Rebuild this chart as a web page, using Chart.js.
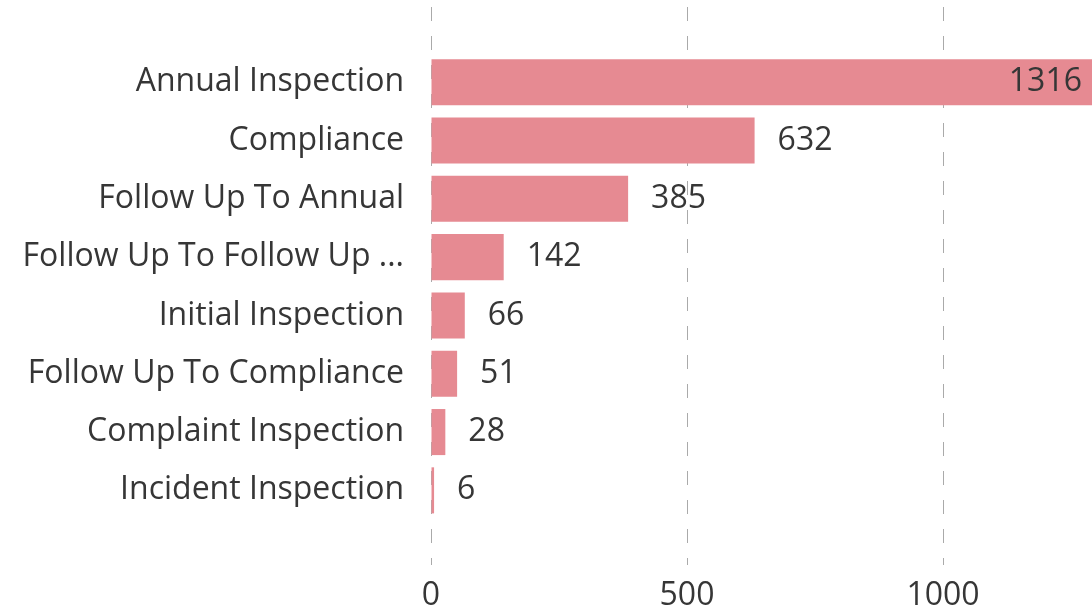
<!DOCTYPE html>
<html>
<head>
<meta charset="utf-8">
<script src="https://cdn.jsdelivr.net/npm/chart.js@4"></script>
<style>
  html, body { margin: 0; padding: 0; background: #fff; overflow: hidden; }
  #wrap { width: 1092px; height: 609px; }
</style>
</head>
<body>
<div id="wrap"><canvas id="inspections"></canvas></div>
<script>
var categories = [
	'Annual Inspection',
	'Compliance',
	'Follow Up To Annual',
	'Follow Up To Follow Up ...',
	'Initial Inspection',
	'Follow Up To Compliance',
	'Complaint Inspection',
	'Incident Inspection'
];
var counts = [1316, 632, 385, 142, 66, 51, 28, 6];
var xTicks = [0, 500, 1000];

var FONT = '"Open Sans", "Noto Sans", sans-serif';
var TEXT = '#363636';

// draw the value next to each bar (inside when it runs off the plot)
var valueLabels = {
	id : 'valueLabels',
	afterDatasetsDraw : function(chart) {
		var ctx = chart.ctx;
		var area = chart.chartArea;
		var meta = chart.getDatasetMeta(0);
		ctx.save();
		ctx.font = '32px ' + FONT;
		ctx.fillStyle = TEXT;
		ctx.textBaseline = 'middle';
		meta.data.forEach(function(bar, i) {
			var txt = String(counts[i]);
			if (bar.x > area.right - 80) {
				ctx.textAlign = 'right';
				ctx.fillText(txt, area.right - 10, bar.y);
			} else {
				ctx.textAlign = 'left';
				ctx.fillText(txt, bar.x + 23, bar.y);
			}
		});
		ctx.restore();
	}
};

function noEdgePadding(scale) {
	scale.paddingTop = 0;
	scale.paddingBottom = 0;
	scale.paddingLeft = 0;
	scale.paddingRight = 0;
}

var config = {
	type    : 'bar',
	data    : {
		datasets : [
			{
				data               : counts.map(function(v, i) { return { x : v, y : i }; }),
				backgroundColor    : 'rgb(230,138,146)',
				borderWidth        : 0,
				barPercentage      : 0.79,
				categoryPercentage : 1
			}
		]
	},
	options : {
		indexAxis           : 'y',
		responsive          : true,
		maintainAspectRatio : false,
		animation           : false,
		layout              : { padding : { top : 7, right : 0, left : 0, bottom : 0 } },
		plugins             : {
			legend  : { display : false },
			tooltip : { enabled : false }
		},
		scales : {
			x : {
				type   : 'linear',
				min    : 0,
				max    : 1291,
				grid   : {
					color      : '#aaaaaa',
					lineWidth  : 1,
					drawTicks  : false
				},
				border : { display : false, dash : [14, 15] },
				ticks  : {
					padding  : 12,
					color    : TEXT,
					font     : { family : FONT, size : 32 },
					callback : function(v) { return String(v); }
				},
				afterBuildTicks : function(scale) {
					scale.ticks = xTicks.map(function(v) { return { value : v }; });
				},
				afterFit : function(scale) {
					scale.height = 44;
					noEdgePadding(scale);
				}
			},
			y : {
				type    : 'linear',
				reverse : true,
				offset  : false,
				min     : -1.29,
				max     : 8.28,
				grid    : { display : false, drawTicks : false, offset : false },
				border  : { display : false },
				ticks   : {
					padding  : 27,
					color    : TEXT,
					font     : { family : FONT, size : 32 },
					callback : function(v) { return categories[v] || ''; }
				},
				afterBuildTicks : function(scale) {
					scale.ticks = categories.map(function(c, i) { return { value : i }; });
				},
				afterFit : function(scale) {
					scale.width = 431;
					noEdgePadding(scale);
				}
			}
		}
	},
	plugins : [valueLabels]
};

window.onload = function() {
	var ctx = document.getElementById('inspections').getContext('2d');
	window.inspChart = new Chart(ctx, config);
};
</script>
</body>
</html>
